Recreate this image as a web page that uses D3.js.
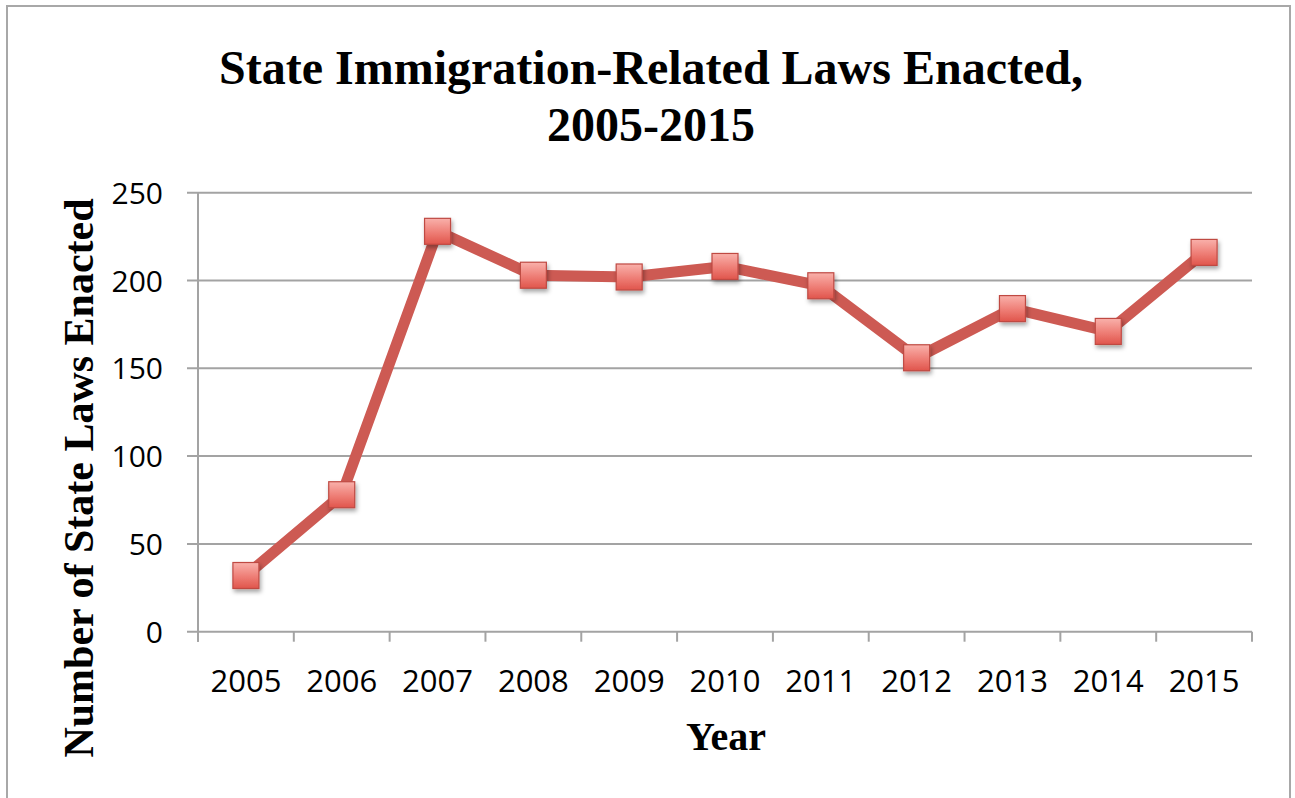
<!DOCTYPE html>
<html>
<head>
<meta charset="utf-8">
<script src="https://cdn.jsdelivr.net/npm/d3@7"></script>
<style>
  html, body { margin: 0; padding: 0; background: #fff; }
  svg { display: block; }
</style>
</head>
<body>
<svg id="chart" width="1295" height="798"></svg>
<script>
const years = ["2005","2006","2007","2008","2009","2010","2011","2012","2013","2014","2015"];
const laws = [32, 78, 228, 203, 202, 208, 197, 156, 184, 171, 216];
const yTicks = [0, 50, 100, 150, 200, 250];
const titleLines = ["State Immigration-Related Laws Enacted,", "2005-2015"];
const xTitle = "Year";
const yTitle = "Number of State Laws Enacted";

const svg = d3.select("#chart");
const plot = { left: 198, right: 1252, top: 192.7, bottom: 631.7 };

const x = d3.scaleBand().domain(years).range([plot.left, plot.right]).padding(0);
const y = d3.scaleLinear().domain([0, 250]).range([plot.bottom, plot.top]);

const defs = svg.append("defs");
const grad = defs.append("linearGradient").attr("id", "mk").attr("x1", 0).attr("y1", 0).attr("x2", 0).attr("y2", 1);
grad.append("stop").attr("offset", "0%").attr("stop-color", "#f9b1ab");
grad.append("stop").attr("offset", "55%").attr("stop-color", "#ee7d75");
grad.append("stop").attr("offset", "100%").attr("stop-color", "#e0554c");
const f = defs.append("filter").attr("id", "sh").attr("x", "-50%").attr("y", "-50%").attr("width", "200%").attr("height", "200%");
f.append("feDropShadow").attr("dx", 1.5).attr("dy", 3).attr("stdDeviation", 2).attr("flood-color", "#000").attr("flood-opacity", 0.35);

// frame
svg.append("rect").attr("x", 7).attr("y", 6).attr("width", 1283).attr("height", 800)
  .attr("fill", "#fff").attr("stroke", "#a8a8a8").attr("stroke-width", 2);

// gridlines
svg.append("g").selectAll("line").data(yTicks).join("line")
  .attr("x1", plot.left - 11).attr("x2", plot.right)
  .attr("y1", d => y(d)).attr("y2", d => y(d))
  .attr("stroke", "#a3a3a3").attr("stroke-width", 2);

// y axis line
svg.append("line").attr("x1", plot.left).attr("x2", plot.left)
  .attr("y1", plot.top).attr("y2", plot.bottom + 10)
  .attr("stroke", "#a3a3a3").attr("stroke-width", 2);

// x axis ticks at band boundaries
const boundaries = years.map(d => x(d)).concat([x(years[years.length - 1]) + x.bandwidth()]);
svg.append("g").selectAll("line").data(boundaries).join("line")
  .attr("x1", d => d).attr("x2", d => d)
  .attr("y1", plot.bottom).attr("y2", plot.bottom + 10)
  .attr("stroke", "#a3a3a3").attr("stroke-width", 2);

// y tick labels
svg.append("g").selectAll("text").data(yTicks).join("text")
  .attr("x", 163).attr("y", d => y(d) + 11)
  .attr("text-anchor", "end")
  .attr("font-family", "'Open Sans', sans-serif").attr("font-size", 30)
  .attr("fill", "#000")
  .text(d => d);

// x tick labels
svg.append("g").selectAll("text").data(years).join("text")
  .attr("x", d => x(d) + x.bandwidth() / 2).attr("y", 692)
  .attr("text-anchor", "middle")
  .attr("font-family", "'Open Sans', sans-serif").attr("font-size", 31)
  .attr("fill", "#000")
  .text(d => d);

// line
const line = d3.line().x((d, i) => x(years[i]) + x.bandwidth() / 2).y(d => y(d));
svg.append("path").datum(laws).attr("d", line)
  .attr("fill", "none").attr("stroke", "#cd5a53").attr("stroke-width", 11)
  .attr("stroke-linejoin", "round");

// markers
const s = 26;
svg.append("g").selectAll("rect").data(laws).join("rect")
  .attr("x", (d, i) => x(years[i]) + x.bandwidth() / 2 - s / 2)
  .attr("y", d => y(d) - s / 2)
  .attr("width", s).attr("height", s)
  .attr("fill", "url(#mk)").attr("stroke", "#bf4a43").attr("stroke-width", 1.2)
  .attr("filter", "url(#sh)");

// title
svg.append("g").selectAll("text").data(titleLines).join("text")
  .attr("x", 651).attr("y", (d, i) => 84 + i * 57)
  .attr("text-anchor", "middle")
  .attr("font-family", "'Liberation Serif', 'Times New Roman', serif")
  .attr("font-weight", "bold").attr("font-size", 48)
  .attr("fill", "#000")
  .text(d => d);

// x title
svg.append("text").attr("x", 726).attr("y", 750)
  .attr("text-anchor", "middle")
  .attr("font-family", "'Liberation Serif', 'Times New Roman', serif")
  .attr("font-weight", "bold").attr("font-size", 40)
  .attr("fill", "#000").text(xTitle);

// y title
svg.append("text")
  .attr("transform", "translate(93,478) rotate(-90)")
  .attr("text-anchor", "middle")
  .attr("font-family", "'Liberation Serif', 'Times New Roman', serif")
  .attr("font-weight", "bold").attr("font-size", 42)
  .attr("fill", "#000").text(yTitle);
</script>
</body>
</html>
